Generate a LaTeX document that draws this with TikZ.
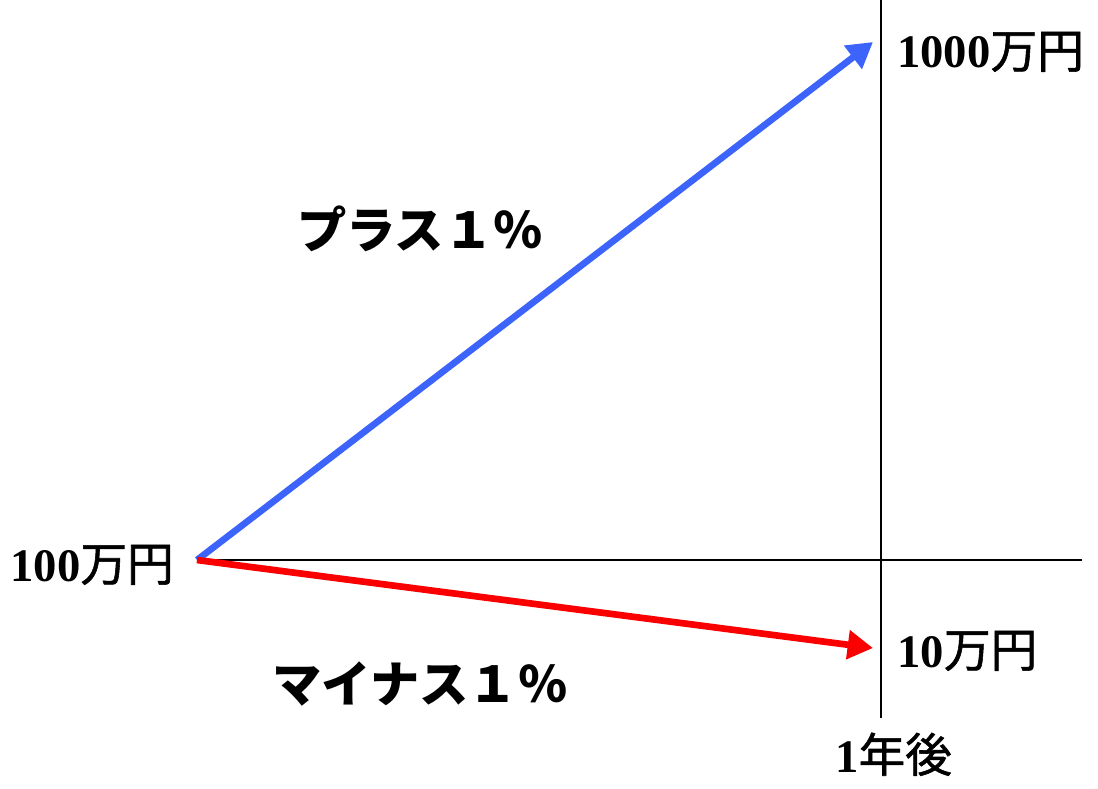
\documentclass[tikz,border=0pt]{standalone}
\usepackage{fontspec}
\setmainfont{Liberation Serif}
\newfontfamily\cjk{Noto Sans CJK JP}
\newfontfamily\cjkmid[FakeBold=1.2]{Noto Sans CJK JP}
\usetikzlibrary{arrows.meta,positioning}

\definecolor{plusblue}{RGB}{60,100,250}
\definecolor{minusred}{RGB}{250,0,0}

\newcommand{\yen}[1]{{\cjkmid\mdseries #1}}

\begin{document}
\begin{tikzpicture}[x=0.75pt,y=-0.75pt,
  axis/.style={draw=black,line width=0.8pt},
  amount/.style={anchor=base west,inner sep=0pt,font=\fontsize{35}{38}\selectfont\bfseries},
  rate/.style={inner sep=0pt,font=\fontsize{37}{40}\selectfont\cjk\bfseries},
  growth/.style={line width=5pt,-{Triangle[length=19pt,width=21pt]}}]
  \useasboundingbox (0,0) rectangle (1098,788);
  % axes
  \coordinate (start) at (197,560);
  \coordinate (top) at (881,0);
  \coordinate (bottom) at (881,718);
  \coordinate (right) at (1082,560);
  \draw[axis] (top) -- (bottom);
  \draw[axis] (start) -- (right);
  % end points
  \coordinate (up) at (873,42);
  \coordinate (down) at (873,648);
  \draw[growth,plusblue] (start) -- (up);
  \draw[growth,minusred] (start) -- (down);
  % labels
  \node[amount] (high) at (897,68) {1000\yen{万円}};
  \node[amount,anchor=base east] (base) at (174,581) {100\yen{万円}};
  \node[amount] (low) at (897,667) {10\yen{万円}};
  \node[amount] (year) at (835,772) {1\yen{年後}};
  \node[rate] (plus) at (420,229) {プラス１％};
  \node[rate] (minus) at (420,684) {マイナス１％};
\end{tikzpicture}
\end{document}
